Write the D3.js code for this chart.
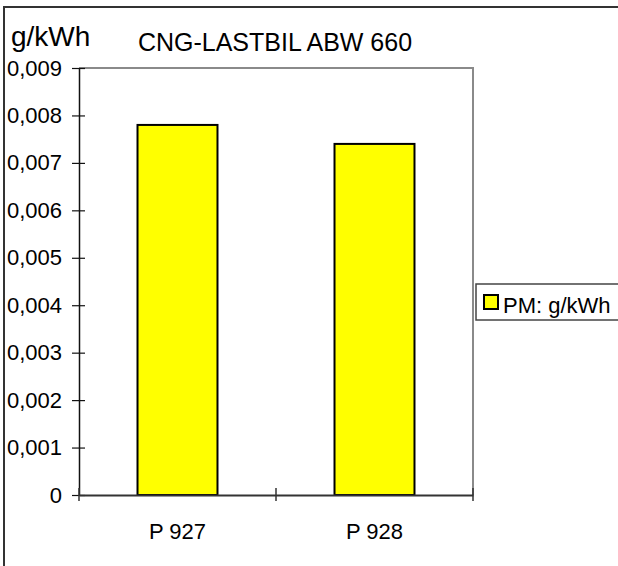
<!DOCTYPE html>
<html>
<head>
<meta charset="utf-8">
<script src="https://cdn.jsdelivr.net/npm/d3@7"></script>
<style>
  html, body { margin: 0; padding: 0; background: #fff; }
  svg text { font-family: "Liberation Sans", Arial, sans-serif; fill: #000; }
</style>
</head>
<body>
<svg id="chart" width="618" height="566"></svg>
<script>
// PM emissions per test run
const categories = ["P 927", "P 928"];
const pmValues = [0.0078, 0.0074];
const yTickValues = [0, 0.001, 0.002, 0.003, 0.004, 0.005, 0.006, 0.007, 0.008, 0.009];
const yTickLabels = ["0", "0,001", "0,002", "0,003", "0,004", "0,005", "0,006", "0,007", "0,008", "0,009"];
const seriesName = "PM: g/kWh";
const chartTitle = "CNG-LASTBIL ABW 660";
const unitLabel = "g/kWh";

const svg = d3.select("#chart");
const plot = { left: 79, top: 68, right: 473, bottom: 495 };

// outer frame (right and bottom edges run past the page)
svg.append("rect")
  .attr("x", 4).attr("y", 7).attr("width", 700).attr("height", 700)
  .attr("fill", "none").attr("stroke", "#333").attr("stroke-width", 2);

const x = d3.scaleBand()
  .domain(categories)
  .range([plot.left, plot.right])
  .paddingInner(0.594)
  .paddingOuter(0.297);

const xGrid = d3.scaleBand().domain(categories).range([plot.left, plot.right]).padding(0);

const y = d3.scaleLinear().domain([0, 0.009]).range([plot.bottom, plot.top]);

// plot frame: top and right in grey
svg.append("path")
  .attr("d", `M${plot.left},${plot.top}H${plot.right}V${plot.bottom}`)
  .attr("fill", "none").attr("stroke", "#8a8a8a").attr("stroke-width", 2);

// bars
svg.selectAll("rect.bar")
  .data(pmValues)
  .enter().append("rect")
  .attr("class", "bar")
  .attr("x", (d, i) => x(categories[i]))
  .attr("width", x.bandwidth())
  .attr("y", d => y(d))
  .attr("height", d => y(0) - y(d))
  .attr("fill", "#ffff00")
  .attr("stroke", "#000")
  .attr("stroke-width", 2);

// y axis
const yAxis = d3.axisLeft(y)
  .tickValues(yTickValues)
  .tickFormat((d, i) => yTickLabels[i])
  .tickSizeInner(6).tickSizeOuter(0).tickPadding(11);
const yg = svg.append("g").attr("transform", `translate(${plot.left},0)`).call(yAxis);
yg.select(".domain").attr("stroke", "#111").attr("stroke-width", 1.5);
yg.selectAll(".tick line").attr("x2", 6).attr("x1", -7).attr("stroke", "#111").attr("stroke-width", 1.2);
yg.selectAll(".tick text")
  .attr("x", -17)
  .style("font-size", "22px")
  .style("font-family", "'Liberation Sans', Arial, sans-serif")
  .attr("fill", "#000");

// x axis with separators between categories
const xAxis = d3.axisBottom(xGrid).tickSize(0).tickFormat("");
const xg = svg.append("g").attr("transform", `translate(0,${plot.bottom})`).call(xAxis);
xg.select(".domain").attr("stroke", "#333").attr("stroke-width", 2);
xg.selectAll(".tick").remove();
const sepPositions = [plot.left].concat(categories.map(c => xGrid(c) + xGrid.bandwidth()));
xg.selectAll("line.sep")
  .data(sepPositions)
  .enter().append("line")
  .attr("class", "sep")
  .attr("x1", d => d).attr("x2", d => d)
  .attr("y1", -7).attr("y2", 6)
  .attr("stroke", "#333").attr("stroke-width", 1.5);

// category labels
svg.selectAll("text.cat")
  .data(categories)
  .enter().append("text")
  .attr("class", "cat")
  .attr("x", d => x(d) + x.bandwidth() / 2)
  .attr("y", 539)
  .attr("text-anchor", "middle")
  .style("font-size", "22px")
  .text(d => d);

// title and unit
svg.append("text")
  .attr("x", 275).attr("y", 51)
  .attr("text-anchor", "middle")
  .style("font-size", "25px")
  .text(chartTitle);

svg.append("text")
  .attr("x", 11).attr("y", 46)
  .style("font-size", "28px")
  .text(unitLabel);

// legend
const legend = svg.append("g");
legend.append("rect")
  .attr("x", 476).attr("y", 284).attr("width", 200).attr("height", 36)
  .attr("fill", "#fff").attr("stroke", "#444").attr("stroke-width", 1.5);
legend.append("rect")
  .attr("x", 484).attr("y", 295).attr("width", 14).attr("height", 14)
  .attr("fill", "#ffff00").attr("stroke", "#000").attr("stroke-width", 2);
legend.append("text")
  .attr("x", 503).attr("y", 313)
  .style("font-size", "22px")
  .text(seriesName);
</script>
</body>
</html>
